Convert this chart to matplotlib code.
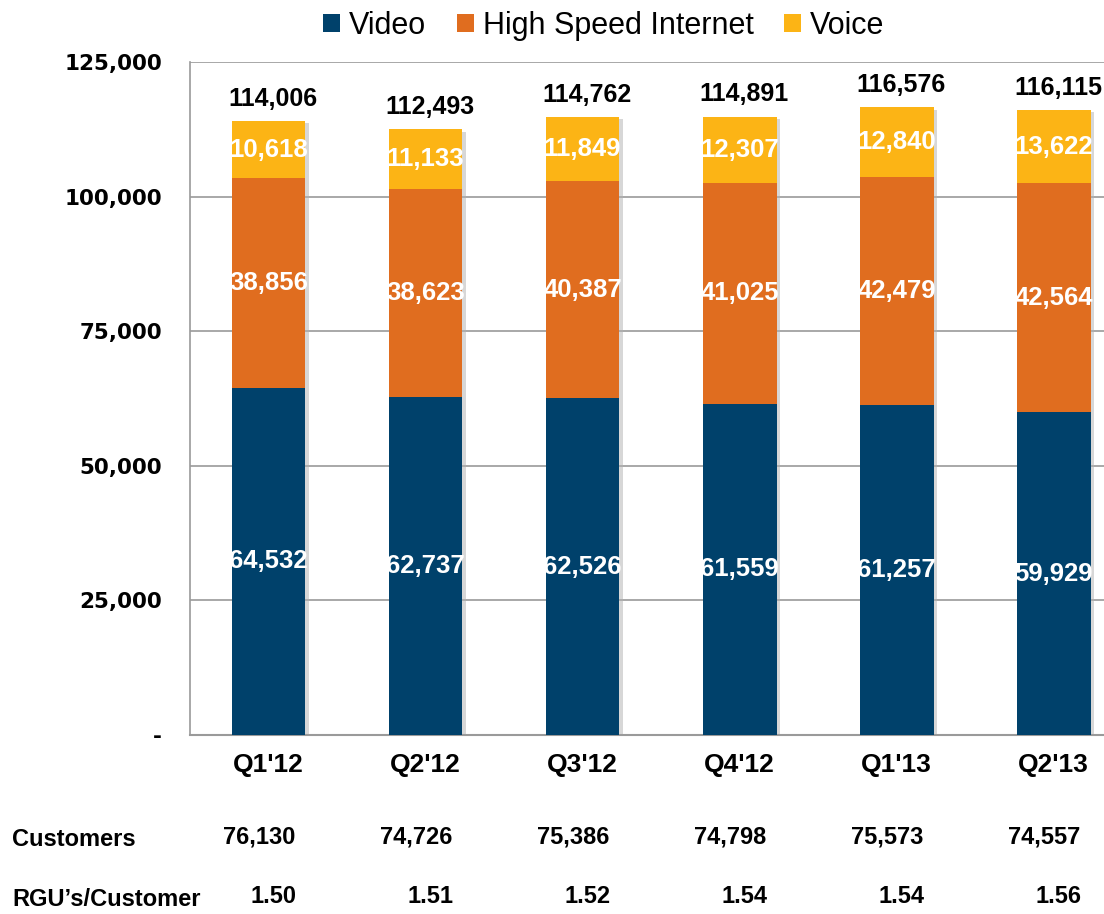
import matplotlib.pyplot as plt
import numpy as np

quarters = ["Q1'12", "Q2'12", "Q3'12", "Q4'12", "Q1'13", "Q2'13"]
video = [64532, 62737, 62526, 61559, 61257, 59929]
internet = [38856, 38623, 40387, 41025, 42479, 42564]
voice = [10618, 11133, 11849, 12307, 12840, 13622]
totals = [114006, 112493, 114762, 114891, 116576, 116115]
customers = ["76,130", "74,726", "75,386", "74,798", "75,573", "74,557"]
rgu = ["1.50", "1.51", "1.52", "1.54", "1.54", "1.56"]

c_video = '#00416B'
c_hsi = '#E06D1F'
c_voice = '#FCB415'
arial = 'Liberation Sans'

fig = plt.figure(figsize=(11.04, 9.14), dpi=100)
ax = fig.add_axes([0.172, 0.196, 0.828, 0.736])

x = np.arange(len(quarters))
w = 0.47

# soft shadow behind each stack
ax.bar(x + 0.022, np.array(totals) - 400, w, color='#b0b0b0', alpha=0.5, zorder=2)

b1 = ax.bar(x, video, w, color=c_video, label='Video', zorder=3)
b2 = ax.bar(x, internet, w, bottom=video, color=c_hsi, label='High Speed Internet', zorder=3)
bottom3 = np.array(video) + np.array(internet)
b3 = ax.bar(x, voice, w, bottom=bottom3, color=c_voice, label='Voice', zorder=3)

for i in range(len(x)):
    ax.text(x[i], video[i] / 2, f'{video[i]:,}', ha='center', va='center',
            color='white', fontsize=18.5, fontweight='bold', family=arial, zorder=4)
    ax.text(x[i], video[i] + internet[i] / 2, f'{internet[i]:,}', ha='center', va='center',
            color='white', fontsize=18.5, fontweight='bold', family=arial, zorder=4)
    ax.text(x[i], bottom3[i] + voice[i] / 2, f'{voice[i]:,}', ha='center', va='center',
            color='white', fontsize=18.5, fontweight='bold', family=arial, zorder=4)
    ax.text(x[i] + 0.03, totals[i] + 1900, f'{totals[i]:,}', ha='center', va='bottom',
            color='black', fontsize=18, fontweight='bold', family=arial, zorder=4)

ax.set_xlim(-0.5, 5.32)
ax.set_ylim(0, 125000)
ax.set_yticks([0, 25000, 50000, 75000, 100000, 125000])
ax.set_yticklabels(['-', '25,000', '50,000', '75,000', '100,000', '125,000'],
                   fontsize=15.5, fontweight='bold', family='DejaVu Sans')
ax.yaxis.set_tick_params(length=0, pad=20)
ax.set_xticks(x)
ax.set_xticklabels(quarters, fontsize=19, fontweight='bold', family=arial)
ax.xaxis.set_tick_params(length=0, pad=13)
ax.grid(axis='y', color='#9a9a9a', linewidth=1.2, zorder=0)
for s in ['top', 'right']:
    ax.spines[s].set_visible(False)
ax.spines['left'].set_color('#9a9a9a')
ax.spines['bottom'].set_color('#9a9a9a')
ax.spines['left'].set_linewidth(1.2)
ax.spines['bottom'].set_linewidth(1.5)

# table rows below the chart
fig.text(0.011, 1 - 840 / 914, 'Customers', fontsize=17, fontweight='bold',
         family=arial, va='center', ha='left')
fig.text(0.011, 1 - 900 / 914, "RGU’s/Customer", fontsize=17, fontweight='bold',
         family=arial, va='center', ha='left')
for i in range(len(x)):
    ax.text(x[i] - 0.06, -19000, customers[i], ha='center', va='center', fontsize=17,
            fontweight='bold', family=arial, clip_on=False)
    ax.text(x[i] + 0.03, -30000, rgu[i], ha='center', va='center', fontsize=17,
            fontweight='bold', family=arial, clip_on=False)

fig.legend(handles=[b1, b2, b3], loc='upper center', bbox_to_anchor=(0.547, 1.018),
           ncol=3, frameon=False, prop={'family': arial, 'size': 22},
           handlelength=0.55, handleheight=0.55, handletextpad=0.3, columnspacing=1.0)

fig.savefig('out.png', dpi=100)
